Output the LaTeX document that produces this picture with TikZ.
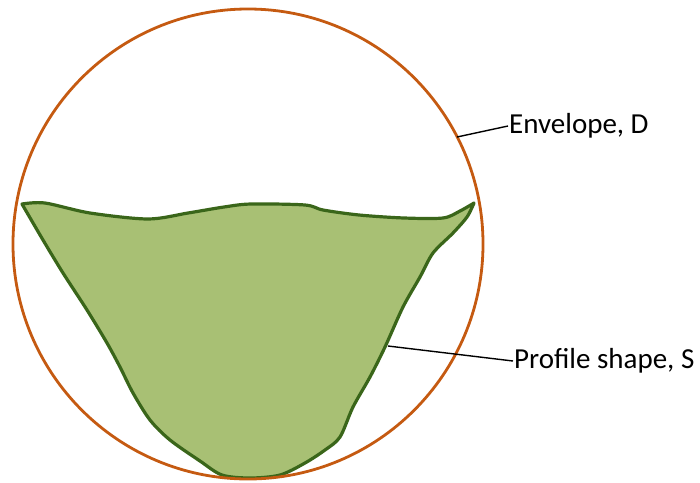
\documentclass[tikz,border=0pt]{standalone}
\usepackage{fontspec}
\setmainfont{Carlito}
\usepackage{tikz}
\usetikzlibrary{positioning}
\definecolor{envorange}{RGB}{197,90,17}
\definecolor{profgreen}{RGB}{168,192,116}
\definecolor{profedge}{RGB}{58,102,26}

\begin{document}
\begin{tikzpicture}[x=1pt,y=-1pt]
  \useasboundingbox (0,0) rectangle (700,482);
  % profile shape S
  \filldraw[fill=profgreen,draw=profedge,line width=3.2pt,line join=round]
    plot[smooth,tension=0.5] coordinates {(22,204) (45,203) (90,213) (148,219) (188,213)
      (224,207) (251,204) (305,205) (323,210) (359,215) (404,218) (443,218) (460,211) (474,203)}
    -- plot[smooth,tension=0.5] coordinates {(474,203) (467,217) (453,233) (433,253) (420,277)
      (403,307) (385,347) (370,377) (353,407) (340,437) (325,450) (305,463) (280,475)
      (250,478) (222,475) (200,461) (170,440) (150,420) (133,393) (120,367)
      (107,343) (87,310) (63,273) (43,240) (22,204)} -- cycle;
  % envelope D
  \draw[envorange,line width=2.8pt] (248,244) circle (235);
  % labels
  \coordinate (Dpt) at (457,137);
  \coordinate (Spt) at (388,346);
  \node[anchor=west,inner sep=1pt,font=\fontsize{29}{34}\selectfont] (envD) at (508,126) {Envelope, D};
  \node[anchor=west,inner sep=1pt,font=\fontsize{29}{34}\selectfont] (profS) at (513,361) {Profile shape, S};
  \draw[line width=1.4pt] (Dpt) -- (envD.west);
  \draw[line width=1.4pt] (Spt) -- (profS.west);
\end{tikzpicture}
\end{document}
